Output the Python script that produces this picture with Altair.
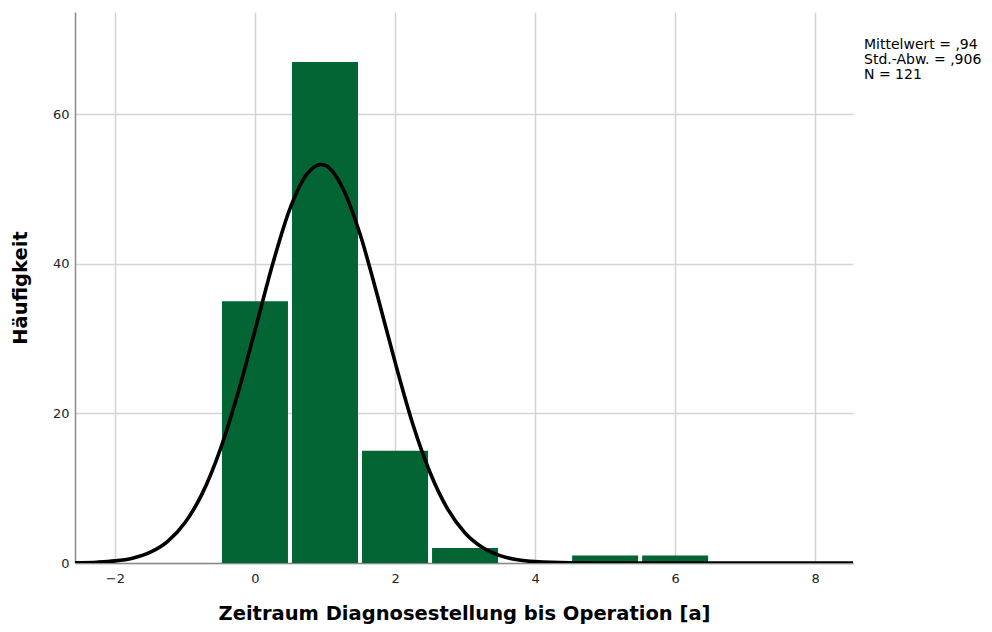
import altair as alt
import pandas as pd

# Histogram bins (width 1)
bin_start = [-0.5, 0.5, 1.5, 2.5, 4.5, 5.5]
bin_end = [0.5, 1.5, 2.5, 3.5, 5.5, 6.5]
counts = [35, 67, 15, 2, 1, 1]

# Normal curve
curve_x = [-2.57, -2.25, -2.0, -1.75, -1.5, -1.25, -1.0, -0.75, -0.5, -0.25, 0.0, 0.25, 0.5, 0.75,
           0.94, 1.0, 1.25, 1.5, 1.75, 2.0, 2.25, 2.5, 2.75, 3.0, 3.25, 3.5, 3.75, 4.0, 4.5, 5.0, 8.54]
curve_y = [0.03, 0.11, 0.28, 0.65, 1.42, 2.87, 5.38, 9.35, 15.07, 22.5, 31.1, 39.9, 47.4, 52.1,
           53.3, 53.2, 50.2, 44.0, 35.7, 26.9, 18.7, 12.1, 7.24, 4.02, 2.07, 0.98, 0.43, 0.18, 0.02, 0.0, 0.0]

x_ticks = [-2, 0, 2, 4, 6, 8]
y_ticks = [0, 20, 40, 60]
stats_lines = ["Mittelwert = ,94", "Std.-Abw. = ,906", "N = 121"]

x_title = "Zeitraum Diagnosestellung bis Operation [a]"
y_title = "Häufigkeit"

bars_df = pd.DataFrame({"start": bin_start, "end": bin_end, "count": counts})
curve_df = pd.DataFrame({"x": curve_x, "y": curve_y})

x_scale = alt.Scale(domain=[-2.57, 8.54], nice=False, zero=False)
y_scale = alt.Scale(domain=[0, 73.7], nice=False)

x_axis = alt.Axis(values=x_ticks, title=x_title, grid=True, ticks=False,
                  labelPadding=9, titlePadding=19, format="d")
y_axis = alt.Axis(values=y_ticks, title=y_title, grid=True, ticks=False,
                  labelPadding=6, titlePadding=22)

bars = alt.Chart(bars_df).mark_rect(color="#036533", xOffset=2, x2Offset=-2).encode(
    x=alt.X("start:Q", scale=x_scale, axis=x_axis),
    x2="end:Q",
    y=alt.Y("count:Q", scale=y_scale, axis=y_axis),
    y2=alt.datum(0),
)

curve = alt.Chart(curve_df).mark_line(color="black", strokeWidth=3.6, interpolate="monotone", clip=True).encode(
    x=alt.X("x:Q", scale=x_scale),
    y=alt.Y("y:Q", scale=y_scale),
)

stats = alt.Chart(pd.DataFrame({"t": [stats_lines]})).mark_text(
    align="left", baseline="alphabetic", fontSize=14, font="DejaVu Sans", color="black", lineHeight=15
).encode(
    text="t",
    x=alt.value(789),
    y=alt.value(36.5),
)

chart = alt.layer(bars, curve, stats).properties(
    width=778, height=551,
    autosize=alt.AutoSizeParams(type="none"),
    padding={"left": 67, "top": 4, "right": 130, "bottom": 61},
).configure_view(stroke=None).configure_axis(
    gridColor="#d4d4d4", gridWidth=1.5,
    domainColor="#8a8a8a", domainWidth=1.5,
    labelFont="DejaVu Sans", labelFontSize=13, labelColor="#222222",
    titleFont="DejaVu Sans", titleFontSize=19.5, titleFontWeight="bold", titleColor="black",
)

chart.save("out.html", embed_options={"renderer": "svg", "actions": False})
